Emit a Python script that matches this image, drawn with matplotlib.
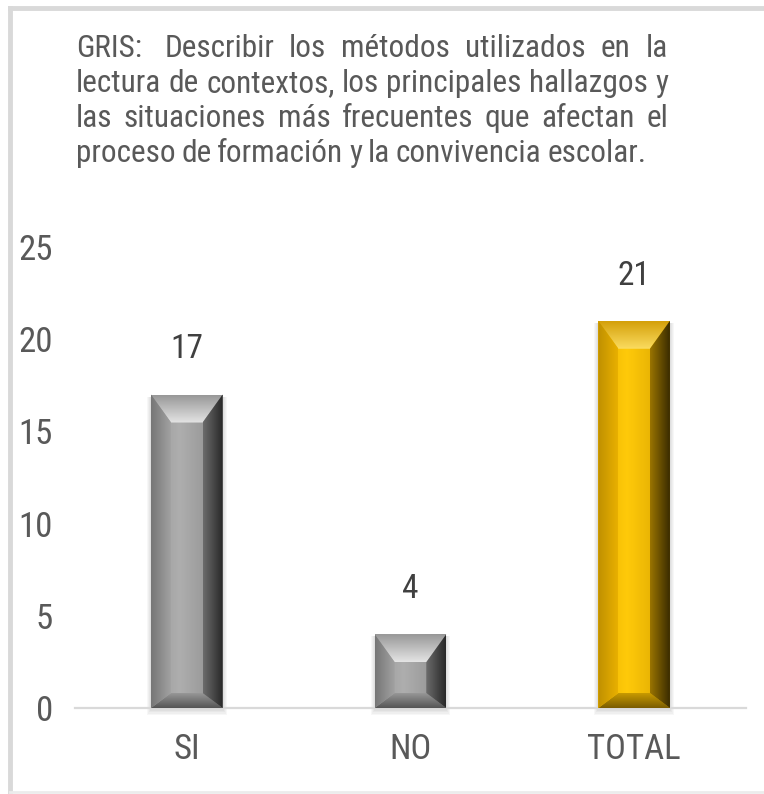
import os
import numpy as np
import matplotlib
matplotlib.use('Agg')
from matplotlib import pyplot as plt
from matplotlib import font_manager
from matplotlib.font_manager import FontProperties
from matplotlib.patches import Polygon, Rectangle
from matplotlib.lines import Line2D
from matplotlib.colors import to_rgb

# datos
categorias = ['SI', 'NO', 'TOTAL']
valores = [17, 4, 21]
tonos = ['gris', 'gris', 'oro']
yticks = [0, 5, 10, 15, 20, 25]
titulo = ['GRIS:  Describir los métodos utilizados en la',
          'lectura de contextos, los principales hallazgos y',
          'las situaciones más frecuentes que afectan el',
          'proceso de formación y la convivencia escolar.']


# buscar una fuente estrecha (tipo Arial Narrow)
def buscar_fuente():
    prefs = ['liberationsansnarrow-regular', 'arialn', 'robotocondensed-regular',
             'dejavusanscondensed.ttf', 'opensans_condensed-regular',
             'opensanscondensed-regular', 'notosans-condensed.ttf',
             'notosanscondensed-regular', 'lato-condensed']
    archivos = [fe.fname for fe in font_manager.fontManager.ttflist]
    for p in prefs:
        for a in archivos:
            if os.path.basename(a).lower().startswith(p):
                return a
    for a in archivos:
        b = os.path.basename(a).lower()
        if ('narrow' in b or 'condensed' in b) and not any(
                k in b for k in ['bold', 'italic', 'oblique', 'light', 'thin',
                                 'medium', 'black', 'semi', 'extra']):
            return a
    return None


ruta = buscar_fuente()
if ruta:
    fp = lambda s: FontProperties(fname=ruta, size=s)
else:
    fp = lambda s: FontProperties(family='DejaVu Sans', stretch='condensed', size=s)

# colores de bisel: cara, arriba, izquierda, derecha, abajo (exterior -> interior)
paletas = {
    'gris': {'cara': [(0, '#9a9a9a'), (0.4, '#aeaeae'), (1, '#8c8c8c')],
             'arriba': ['#989898', '#e4e4e4'],
             'izq': ['#767676', '#a2a2a2'],
             'der': ['#282828', '#6c6c6c'],
             'abajo': ['#555555', '#979797']},
    'oro': {'cara': [(0, '#e9b200'), (0.4, '#ffca0a'), (1, '#d9a400')],
            'arriba': ['#d4a00a', '#fbdc60'],
            'izq': ['#c09000', '#e8b000'],
            'der': ['#3a2c00', '#9a7400'],
            'abajo': ['#7a5c00', '#c89a00']},
}

W, H = 764, 794
fig = plt.figure(figsize=(W / 100, H / 100), dpi=100)
ax = fig.add_axes([75 / W, 1 - 708 / H, 671 / W, 461 / H])
xlim = (-0.5, 2.5)
ylim = (0, 25)
px = (xlim[1] - xlim[0]) / 671.0   # unidades de datos por pixel
py = (ylim[1] - ylim[0]) / 461.0


def gradiente(verts, stops, eje, z):
    verts = np.array(verts)
    x0, x1 = verts[:, 0].min(), verts[:, 0].max()
    y0, y1 = verts[:, 1].min(), verts[:, 1].max()
    t = np.linspace(0, 1, 64)
    pos = [s[0] for s in stops]
    rgb = np.array([to_rgb(s[1]) for s in stops])
    cols = np.stack([np.interp(t, pos, rgb[:, i]) for i in range(3)], axis=1)
    if eje == 'x':
        img = np.stack([cols, cols], axis=0)
    else:
        img = np.stack([cols, cols], axis=1)
    im = ax.imshow(img, extent=(x0, x1, y0, y1), origin='lower', aspect='auto',
                   interpolation='bilinear', zorder=z)
    poly = Polygon(verts, closed=True, transform=ax.transData,
                   facecolor='none', edgecolor='none')
    im.set_clip_path(poly)


x = np.arange(len(categorias))
barras = ax.bar(x, valores, width=0.32, color='none', edgecolor='none', zorder=3)

for b, tono in zip(barras, tonos):
    p = paletas[tono]
    x0, y0 = b.get_x(), b.get_y()
    x1, y1 = x0 + b.get_width(), y0 + b.get_height()
    bx, bt, bb = 20 * px, 28 * py, 15 * py
    # sombra suave, algo desplazada hacia abajo
    for k in range(1, 5):
        ax.add_patch(Rectangle((x0 - k * 1.0 * px, y0 - (k * 1.2 + 2) * py),
                               (x1 - x0) + k * 2.0 * px, (y1 - y0) + k * 1.2 * py,
                               facecolor='#000000', alpha=0.03, edgecolor='none',
                               zorder=2, clip_on=False))
    gradiente([(x0, y0), (x1, y0), (x1, y1), (x0, y1)], p['cara'], 'x', 3)
    gradiente([(x0, y1), (x1, y1), (x1 - bx, y1 - bt), (x0 + bx, y1 - bt)],
              [(0, p['arriba'][1]), (1, p['arriba'][0])], 'y', 4)
    gradiente([(x0, y0), (x1, y0), (x1 - bx, y0 + bb), (x0 + bx, y0 + bb)],
              [(0, p['abajo'][0]), (1, p['abajo'][1])], 'y', 4)
    gradiente([(x0, y0), (x0, y1), (x0 + bx, y1 - bt), (x0 + bx, y0 + bb)],
              [(0, p['izq'][0]), (1, p['izq'][1])], 'x', 4)
    gradiente([(x1, y0), (x1, y1), (x1 - bx, y1 - bt), (x1 - bx, y0 + bb)],
              [(0, p['der'][1]), (1, p['der'][0])], 'x', 4)

# etiquetas de datos
for xi, v in zip(x, valores):
    ax.annotate(str(v), (xi, v), xytext=(0, 21), textcoords='offset points',
                ha='center', va='bottom', fontproperties=fp(24),
                color='#404040', zorder=6)

ax.set_xlim(*xlim)
ax.set_ylim(*ylim)
ax.set_xticks(x)
ax.set_xticklabels(categorias)
ax.set_yticks(yticks)
ax.tick_params(axis='both', length=0, labelcolor='#595959')
ax.tick_params(axis='y', pad=16)
ax.tick_params(axis='x', pad=18)
for lab in ax.get_xticklabels() + ax.get_yticklabels():
    lab.set_fontproperties(fp(25))
for s in ['top', 'right', 'left']:
    ax.spines[s].set_visible(False)
ax.spines['bottom'].set_color('#d9d9d9')
ax.spines['bottom'].set_linewidth(1.6)
ax.patch.set_alpha(0)

# borde del area del grafico (recortado a la derecha)
borde = dict(color='#d9d9d9', linewidth=3.5, transform=fig.transFigure)
fig.add_artist(Line2D([10 / W, 1.0], [1 - 7.5 / H] * 2, **borde))
fig.add_artist(Line2D([10 / W] * 2, [1 - 7.5 / H, 1 - 792 / H], **borde))
fig.add_artist(Line2D([10 / W, 1.0], [1 - 792 / H] * 2, color='#ececec',
                      linewidth=2, transform=fig.transFigure))

# titulo justificado (un doble espacio cuenta como hueco extra)
renderer = fig.canvas.get_renderer()
tam = 22.5
izq, der = 76, 668
bases = [57, 92, 127, 162]
espacio = fig.text(0, 0, 'a a', fontproperties=fp(tam)).get_window_extent(renderer).width \
    - fig.text(0, 0, 'aa', fontproperties=fp(tam)).get_window_extent(renderer).width
for t in fig.texts[-2:]:
    t.remove()
for i, (linea, yb) in enumerate(zip(titulo, bases)):
    trozos = linea.split(' ')
    palabras, extra = [], []
    for tr in trozos:
        if tr == '':
            extra[-1] += espacio
        else:
            palabras.append(tr)
            extra.append(0.0)
    tx = [fig.text(0, 1 - yb / H, w, fontproperties=fp(tam), color='#595959',
                   va='baseline') for w in palabras]
    anchos = [t.get_window_extent(renderer).width for t in tx]
    if i < len(titulo) - 1 and len(palabras) > 1:
        hueco = (der - izq - sum(anchos) - sum(extra[:-1])) / (len(palabras) - 1)
    else:
        hueco = espacio * 0.8
    pos = izq
    for t, a, e in zip(tx, anchos, extra):
        t.set_x(pos / W)
        pos += a + hueco + e

plt.savefig('out.png', dpi=100)
